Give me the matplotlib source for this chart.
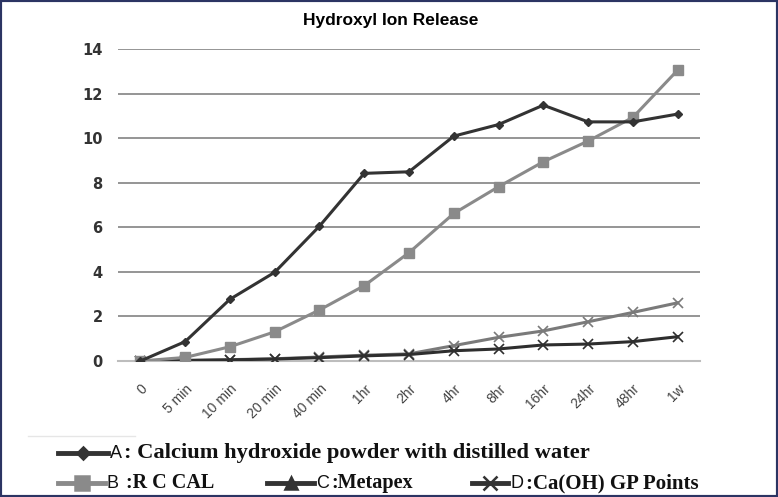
import matplotlib.pyplot as plt
from matplotlib.lines import Line2D
from matplotlib.patches import Rectangle

times = ["0", "5 min", "10 min", "20 min", "40 min", "1hr", "2hr", "4hr",
         "8hr", "16hr", "24hr", "48hr", "1w"]
calcium_water = [0, 0.87, 2.77, 3.98, 6.05, 8.42, 8.49, 10.09, 10.61, 11.48, 10.73, 10.73, 11.08]
rc_cal = [0, 0.16, 0.64, 1.31, 2.29, 3.38, 4.86, 6.62, 7.82, 8.94, 9.87, 10.93, 13.05]
metapex = [0, 0.03, 0.06, 0.1, 0.18, 0.26, 0.32, 0.69, 1.06, 1.35, 1.76, 2.18, 2.61]
gp_points = [0, 0.02, 0.05, 0.09, 0.15, 0.23, 0.29, 0.46, 0.54, 0.72, 0.76, 0.87, 1.09]

W, H = 778, 497
fig = plt.figure(figsize=(W / 100, H / 100), dpi=100)
ax = fig.add_axes([118 / W, 1 - 361 / H, (700 - 118) / W, (361 - 49) / H])

x = range(len(times))
dark = "#333333"
grey = "#8a8a8a"
ax.plot(x, calcium_water, color=dark, lw=2.2, marker="D", ms=4.5, zorder=5)
ax.plot(x, rc_cal, color=grey, lw=2.2, marker="s", ms=7, zorder=4)
ax.plot(x, metapex, color="#7a7a7a", lw=2.2, marker="x", ms=7, mew=1.2, zorder=3)
ax.plot(x, gp_points, color="#2e2e2e", lw=2.2, marker="x", ms=7, mew=1.2, zorder=3)

ax.set_xlim(-0.5, 12.5)
ax.set_ylim(0, 14)
ax.set_yticks(range(0, 15, 2))
ax.yaxis.grid(True, color="#8c8c8c", lw=1.3)
ax.set_axisbelow(True)
for s in ["top", "right", "left"]:
    ax.spines[s].set_visible(False)
ax.spines["bottom"].set_color("#bdbdbd")
ax.spines["bottom"].set_linewidth(1.5)
ax.tick_params(axis="y", length=0, pad=11, labelsize=10.5, labelcolor="#333333")
for t in ax.get_yticklabels():
    t.set_fontweight("bold")
ax.set_xticks(list(x))
ax.set_xticklabels(times, rotation=45, ha="right", rotation_mode="anchor",
                   fontsize=10, color="#444444", family="Liberation Sans")
ax.tick_params(axis="x", length=0, pad=15)

fig.text(391 / W, 1 - 21 / H, "Hydroxyl Ion Release", ha="center", va="center",
         fontsize=12.5, fontweight="bold", family="Liberation Sans")

# legend drawn by hand to mimic the pasted-in key
def key(x0, x1, y, color, marker, ms, letter, tx, text, size):
    yf = 1 - y / H
    fig.add_artist(Line2D([x0 / W, x1 / W], [yf, yf], color=color, lw=3.5,
                          transform=fig.transFigure))
    fig.add_artist(Line2D([(x0 + x1) / 2 / W], [yf], color=color, marker=marker, ms=ms,
                          mew=1.8, transform=fig.transFigure))
    fig.text((x1 + 2) / W, yf, letter, ha="left", va="center", fontsize=13,
             family="Liberation Sans", color="#111111")
    fig.text(tx / W, yf, text, ha="left", va="center", fontsize=size,
             fontweight="bold", family="Liberation Serif", color="#111111")

fig.add_artist(Line2D([28 / W, 135 / W], [1 - 436 / H] * 2, color="#e6e6e6", lw=1,
                      transform=fig.transFigure))
key(58, 108, 453, dark, "D", 6.5, "A", 124, ": Calcium hydroxide powder with distilled water", 16.2)
key(58, 105, 483, grey, "s", 10, "B", 126, ":R C CAL", 14.5)
key(267, 314, 483, dark, "^", 9, "C", 331, ":Metapex", 14.5)
key(472, 508, 483, dark, "x", 10, "D", 526, ":Ca(OH) GP Points", 15)

fig.add_artist(Rectangle((0, 0), 1, 1, transform=fig.transFigure, fill=False,
                         edgecolor="#2b3463", lw=3))

fig.savefig("out.png", dpi=100)
